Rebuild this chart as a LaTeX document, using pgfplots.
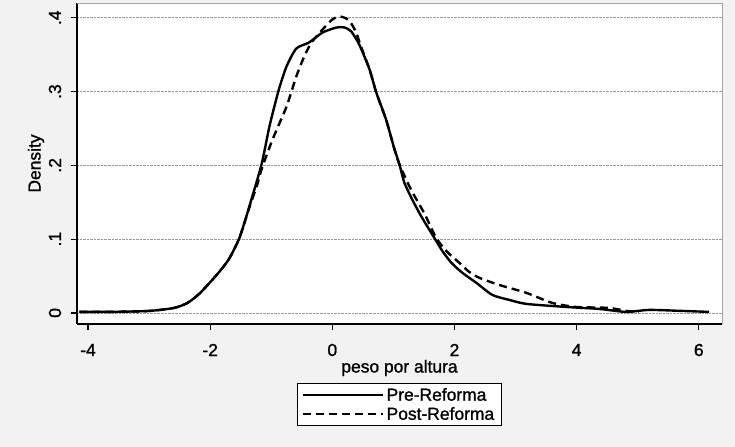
\documentclass[border=0pt]{standalone}
\usepackage{fontspec}
\setmainfont{Liberation Sans}
\newfontfamily\statafam[FakeBold=1.2]{Liberation Sans}
\usepackage{pgfplots}
\pgfplotsset{compat=1.18}

\pgfplotstableread{
x y
-4.14 0.0014
-3.65 0.0014
-3.00 0.0027
-2.59 0.0068
-2.37 0.0136
-2.18 0.0258
-2.01 0.0407
-1.85 0.0557
-1.69 0.0733
-1.52 0.1018
-1.36 0.1439
-1.16 0.2009
-1.03 0.2525
-0.88 0.3013
-0.75 0.3339
-0.59 0.3583
-0.38 0.3665
-0.16 0.3800
0.07 0.3868
0.20 0.3868
0.31 0.3814
0.44 0.3638
0.61 0.3298
0.72 0.2986
0.88 0.2620
1.01 0.2240
1.10 0.2009
1.18 0.1764
1.31 0.1534
1.46 0.1303
1.67 0.1018
1.80 0.0842
1.95 0.0679
2.13 0.0543
2.36 0.0407
2.62 0.0244
2.90 0.0176
3.18 0.0122
3.83 0.0081
4.37 0.0054
4.81 0.0014
5.19 0.0041
5.73 0.0027
6.17 0.0014
}\pre

\pgfplotstableread{
x y
-4.14 0.0014
-3.65 0.0014
-3.00 0.0027
-2.59 0.0068
-2.37 0.0136
-2.18 0.0258
-2.01 0.0407
-1.85 0.0557
-1.69 0.0733
-1.52 0.1018
-1.36 0.1425
-1.23 0.1737
-1.15 0.1968
-0.98 0.2348
-0.75 0.2796
-0.59 0.3203
-0.46 0.3475
-0.34 0.3665
-0.16 0.3841
0.00 0.3977
0.11 0.4018
0.23 0.3990
0.31 0.3923
0.39 0.3800
0.47 0.3610
0.61 0.3298
0.72 0.2986
0.88 0.2620
1.01 0.2240
1.10 0.2009
1.29 0.1669
1.51 0.1344
1.70 0.1018
1.88 0.0828
2.08 0.0679
2.24 0.0557
2.41 0.0475
2.73 0.0380
3.18 0.0271
3.60 0.0136
3.99 0.0081
4.53 0.0068
4.81 0.0027
5.02 0.0014
}\post

\newcommand{\stf}{\statafam\fontsize{17.5}{21}\selectfont}

\begin{document}
\begin{tikzpicture}
\path[use as bounding box, fill=gray!10] (-77bp,-123bp) rectangle (658bp,324bp);
\begin{axis}[
    at={(0bp,0bp)}, anchor=south west,
    scale only axis, width=645bp, height=321bp,
    xmin=-4.18, xmax=6.38, ymin=-0.015, ymax=0.42,
    axis x line*=bottom, axis y line*=left,
    axis line style={black, line width=1.2bp},
    axis background/.style={fill=white},
    xtick={-4,-2,0,2,4,6},
    xticklabels={{\stf -4},{\stf -2},{\stf 0},{\stf 2},{\stf 4},{\stf 6}},
    ytick={0,0.1,0.2,0.3,0.4},
    yticklabels={{\stf 0},{\stf .1},{\stf .2},{\stf .3},{\stf .4}},
    tick align=outside, major tick length=6bp,
    tick style={black, line width=1.2bp},
    tick label style={inner sep=0pt},
    xticklabel style={anchor=center, yshift=-20bp},
    yticklabel style={anchor=center, xshift=-16bp, rotate=90},
    ymajorgrids, grid style={densely dotted, gray!80, line width=0.8bp},
    xlabel={\stf peso por altura}, ylabel={\stf Density},
    every axis x label/.style={at={(rel axis cs:0.5,0)}, anchor=center, yshift=-44bp, inner sep=0pt},
    every axis y label/.style={at={(rel axis cs:0,0.5)}, anchor=center, xshift=-41bp, rotate=90, inner sep=0pt},
    clip mode=individual,
    legend cell align=left,
    legend style={at={(0.5,-0.184)}, anchor=north, draw=black, line width=1bp,
        fill=white, inner xsep=5bp, inner ysep=2bp, row sep=0bp,
        nodes={inner sep=2.5bp}},
    legend image code/.code={\draw[#1, line width=1.8bp] (0bp,0bp) -- (80bp,0bp);},
]
\addplot[black, line width=2.4bp, smooth, tension=0.4] table {\pre};
\addlegendentry{\stf Pre-Reforma}
\addplot[black, line width=2.4bp, smooth, tension=0.4, dash pattern=on 8bp off 5bp] table {\post};
\addlegendentry{\stf Post-Reforma}
\draw[gray!70, line width=0.7bp] (rel axis cs:0,1) -- (rel axis cs:1,1) -- (rel axis cs:1,0);
\end{axis}
\end{tikzpicture}
\end{document}
